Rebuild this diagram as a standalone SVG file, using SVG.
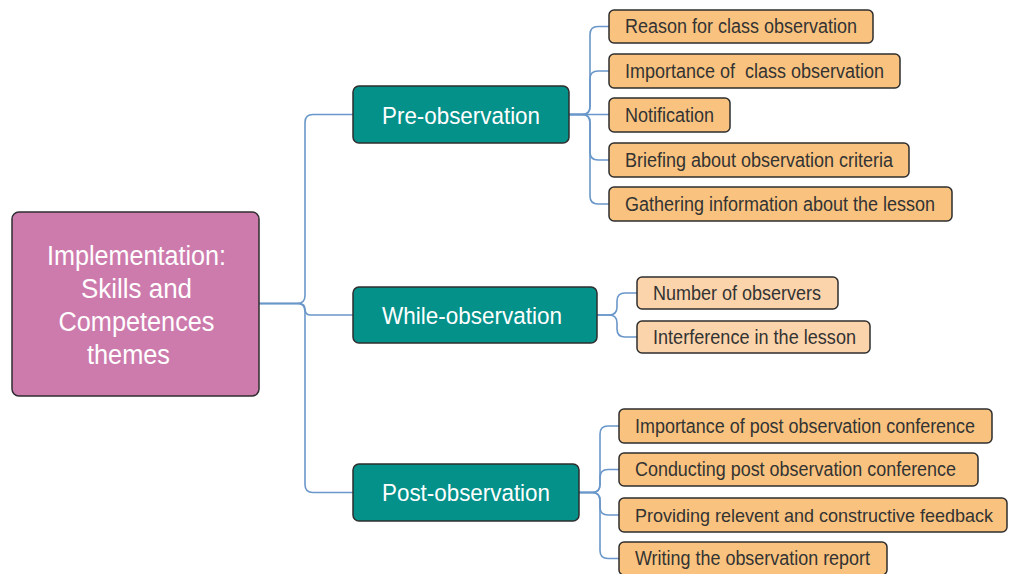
<svg xmlns="http://www.w3.org/2000/svg" width="1009" height="574" viewBox="0 0 1009 574">
<style>
.box{stroke:#2e2e2e;stroke-width:1.5}
.root{fill:#cd7bad}
.l1{fill:#03918a}
.leaf{fill:#f9c37f}
.leaf2{fill:#fcd4ab}
.conn path{fill:none;stroke:#6a97c9;stroke-width:1.6}
text{font-family:"Liberation Sans",Arial,sans-serif}
.rt{fill:#ffffff;font-size:27px;text-anchor:middle}
.t1{fill:#ffffff;font-size:24.5px}
.t2{fill:#333333;font-size:19.5px}
</style>
<rect width="1009" height="574" fill="#ffffff"/>
<g id="connectors" class="conn">
<path d="M259 303.5 H297 Q305 303.5 305 295.5 V122.5 Q305 114.5 313 114.5 H353"/>
<path d="M259 303.5 H299.25 Q305 303.5 305 309.25 Q305 315 310.75 315 H353"/>
<path d="M259 303.5 H297 Q305 303.5 305 311.5 V484.5 Q305 492.5 313 492.5 H353"/>
<path d="M569 114.5 H582 Q590 114.5 590 106.5 V34.5 Q590 26.5 598 26.5 H609"/>
<path d="M569 114.5 H582 Q590 114.5 590 106.5 V79 Q590 71 598 71 H609"/>
<path d="M569 114.5 H609"/>
<path d="M569 114.5 H582 Q590 114.5 590 122.5 V152 Q590 160 598 160 H609"/>
<path d="M569 114.5 H582 Q590 114.5 590 122.5 V196 Q590 204 598 204 H609"/>
<path d="M597 315 H609 Q617 315 617 307 V301 Q617 293 625 293 H637"/>
<path d="M597 315 H609 Q617 315 617 323 V329 Q617 337 625 337 H637"/>
<path d="M579 492.5 H592 Q600 492.5 600 484.5 V434 Q600 426 608 426 H619"/>
<path d="M579 492.5 H592 Q600 492.5 600 484.5 V477.5 Q600 469.5 608 469.5 H619"/>
<path d="M579 492.5 H592 Q600 492.5 600 500.5 V507 Q600 515 608 515 H619"/>
<path d="M579 492.5 H592 Q600 492.5 600 500.5 V550.5 Q600 558.5 608 558.5 H619"/>
</g>
<g id="root">
<rect class="box root" x="12" y="212" width="247" height="184" rx="7"/>
<text class="rt" x="136.5" y="265" textLength="179" lengthAdjust="spacingAndGlyphs">Implementation:</text>
<text class="rt" x="136.5" y="298" textLength="111" lengthAdjust="spacingAndGlyphs">Skills and</text>
<text class="rt" x="136.5" y="331" textLength="156" lengthAdjust="spacingAndGlyphs">Competences</text>
<text class="rt" x="128.5" y="364" textLength="83" lengthAdjust="spacingAndGlyphs">themes</text>
</g>
<g id="pre">
<rect class="box l1" x="353" y="86" width="216" height="57" rx="6"/>
<text class="t1" x="382" y="124" textLength="158" lengthAdjust="spacingAndGlyphs">Pre-observation</text>
</g>
<g id="while">
<rect class="box l1" x="353" y="287" width="244" height="56" rx="6"/>
<text class="t1" x="382" y="324" textLength="180" lengthAdjust="spacingAndGlyphs">While-observation</text>
</g>
<g id="post">
<rect class="box l1" x="353" y="464" width="226" height="57" rx="6"/>
<text class="t1" x="382" y="501" textLength="168" lengthAdjust="spacingAndGlyphs">Post-observation</text>
</g>
<g id="pre-reason">
<rect class="box leaf" x="609" y="10" width="264" height="33" rx="5"/>
<text class="t2" x="625" y="33" textLength="232" lengthAdjust="spacingAndGlyphs">Reason for class observation</text>
</g>
<g id="pre-importance">
<rect class="box leaf" x="609" y="54" width="291" height="34" rx="5"/>
<text class="t2" x="625" y="77.5" textLength="259" lengthAdjust="spacingAndGlyphs" xml:space="preserve">Importance of  class observation</text>
</g>
<g id="pre-notification">
<rect class="box leaf" x="609" y="98" width="121" height="34" rx="5"/>
<text class="t2" x="625" y="121.5" textLength="89" lengthAdjust="spacingAndGlyphs">Notification</text>
</g>
<g id="pre-briefing">
<rect class="box leaf" x="609" y="143" width="300" height="34" rx="5"/>
<text class="t2" x="625" y="166.5" textLength="268" lengthAdjust="spacingAndGlyphs">Briefing about observation criteria</text>
</g>
<g id="pre-gathering">
<rect class="box leaf" x="609" y="187" width="343" height="34" rx="5"/>
<text class="t2" x="625" y="210.5" textLength="310" lengthAdjust="spacingAndGlyphs">Gathering information about the lesson</text>
</g>
<g id="while-number">
<rect class="box leaf2" x="637" y="277" width="201" height="32" rx="5"/>
<text class="t2" x="653" y="299.5" textLength="168" lengthAdjust="spacingAndGlyphs">Number of observers</text>
</g>
<g id="while-interference">
<rect class="box leaf2" x="637" y="321" width="233" height="32" rx="5"/>
<text class="t2" x="653" y="343.5" textLength="203" lengthAdjust="spacingAndGlyphs">Interference in the lesson</text>
</g>
<g id="post-importance">
<rect class="box leaf" x="619" y="409" width="373" height="34" rx="5"/>
<text class="t2" x="635" y="432.5" textLength="340" lengthAdjust="spacingAndGlyphs">Importance of post observation conference</text>
</g>
<g id="post-conducting">
<rect class="box leaf" x="619" y="453" width="359" height="33" rx="5"/>
<text class="t2" x="635" y="476" textLength="321" lengthAdjust="spacingAndGlyphs">Conducting post observation conference</text>
</g>
<g id="post-providing">
<rect class="box leaf" x="619" y="498" width="388" height="34" rx="5"/>
<text class="t2" x="635" y="521.5" style="font-size:18.5px" textLength="358" lengthAdjust="spacingAndGlyphs">Providing relevent and constructive feedback</text>
</g>
<g id="post-writing">
<rect class="box leaf" x="619" y="542" width="268" height="33" rx="5"/>
<text class="t2" x="635" y="565" textLength="235" lengthAdjust="spacingAndGlyphs">Writing the observation report</text>
</g>
</svg>
